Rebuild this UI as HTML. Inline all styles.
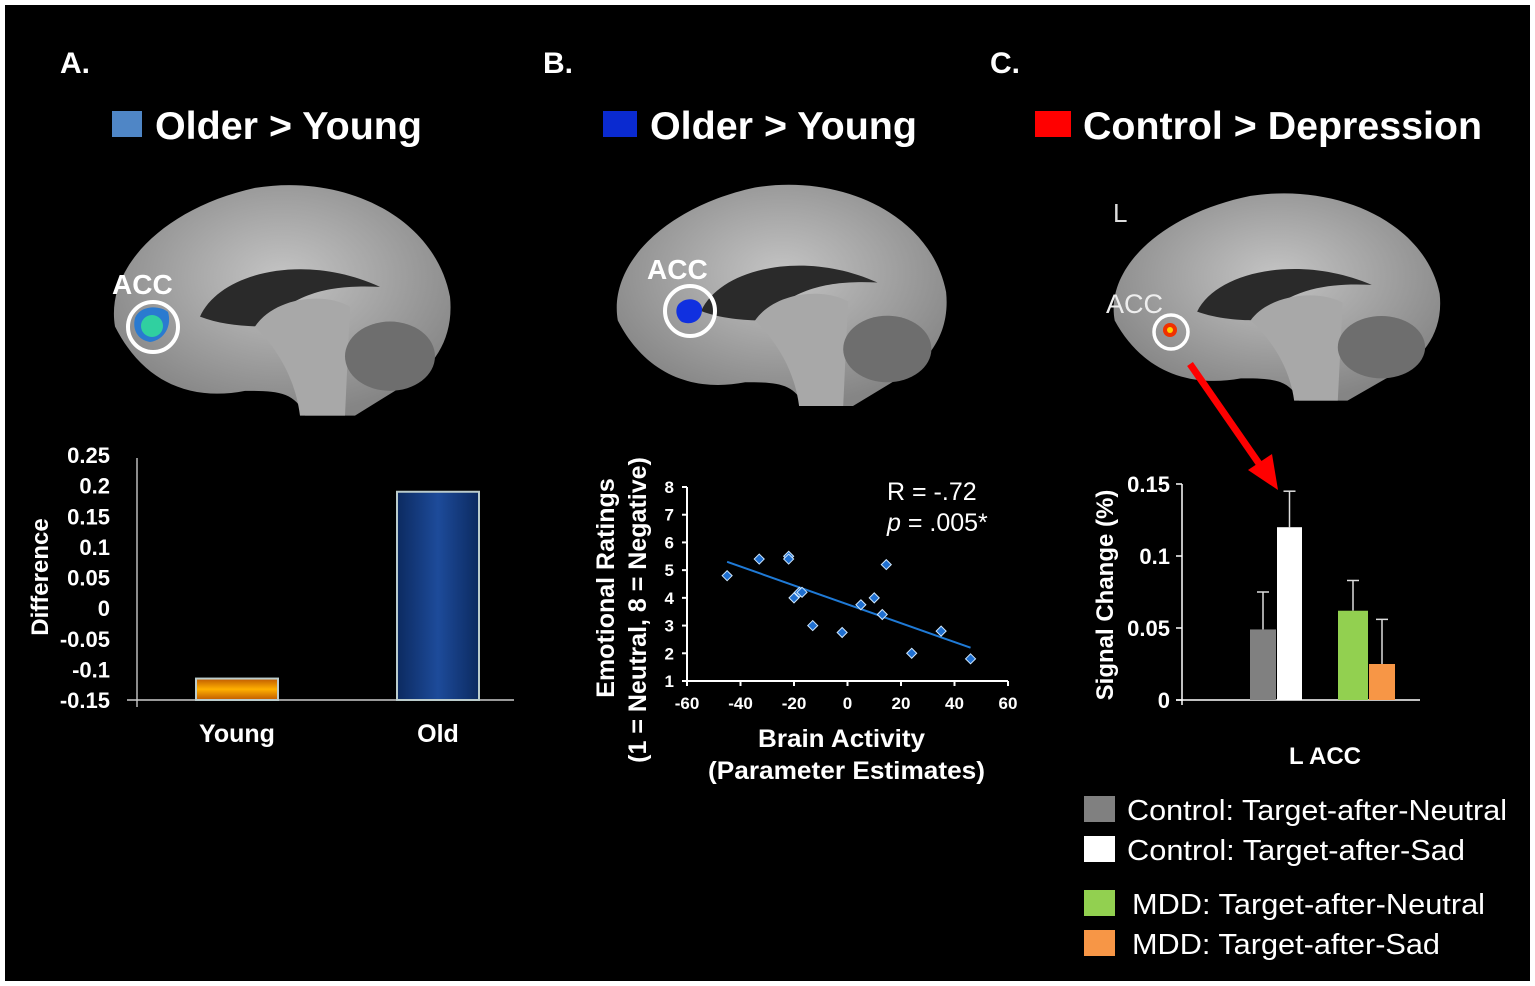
<!DOCTYPE html>
<html><head><meta charset="utf-8"><style>
html,body{margin:0;padding:0;background:#000;}
svg{display:block;font-family:"Liberation Sans",Arial,sans-serif;}
</style></head><body>
<svg width="1535" height="986" viewBox="0 0 1535 986">
<defs>
<radialGradient id="bg" cx="50%" cy="40%" r="60%"><stop offset="0" stop-color="#c4c4c4"/><stop offset="1" stop-color="#858585"/></radialGradient>
<linearGradient id="oldg" x1="0" x2="1"><stop offset="0" stop-color="#0c2a60"/><stop offset="0.5" stop-color="#1d4b9a"/><stop offset="1" stop-color="#0c2a60"/></linearGradient>
<linearGradient id="youngg" x1="0" y1="0" x2="0" y2="1"><stop offset="0" stop-color="#c05a00"/><stop offset="0.5" stop-color="#ffb000"/><stop offset="1" stop-color="#c05a00"/></linearGradient>
<g id="brain">
<path d="M10,150 C0,90 60,30 150,10 C240,-5 330,40 345,120 C350,170 320,200 290,215 L250,240 L200,240 C190,215 170,215 140,215 C90,225 40,210 10,150 Z" fill="url(#bg)"/>
<path d="M95,140 C115,95 200,75 275,110 C235,108 190,112 160,150 C140,150 115,148 95,140 Z" fill="#2a2a2a"/>
<path d="M150,150 C170,120 220,115 245,130 L240,240 L195,240 C190,200 170,170 150,150 Z" fill="#a8a8a8"/>
<ellipse cx="285" cy="180" rx="45" ry="35" fill="#6e6e6e"/>
</g>
</defs>
<rect x="0" y="0" width="1535" height="986" fill="#fff"/>
<rect x="5" y="5" width="1525" height="976" fill="#000"/>

<!-- Panel A -->
<text x="60" y="73" font-size="30" font-weight="bold" fill="#fff">A.</text>
<rect x="112" y="111" width="30" height="26" fill="#4f86c6"/>
<text x="155" y="139" font-size="39" font-weight="bold" fill="#fff" textLength="267" lengthAdjust="spacingAndGlyphs">Older &gt; Young</text>
<use href="#brain" transform="translate(105,178) scale(1,0.99)"/>
<path d="M135,318 C140,305 160,305 168,312 C172,325 165,340 150,342 C138,340 132,330 135,318Z" fill="#2a7ad0"/>
<circle cx="152" cy="326" r="11" fill="#30d0a0"/>
<circle cx="153" cy="327" r="25" fill="none" stroke="#fff" stroke-width="4"/>
<text x="112" y="294" font-size="28" font-weight="bold" fill="#fff">ACC</text>

<g id="chartA"></g>

<!-- Panel B -->
<text x="543" y="73" font-size="30" font-weight="bold" fill="#fff">B.</text>
<rect x="603" y="111" width="34" height="26" fill="#0a2ad0"/>
<text x="650" y="139" font-size="39" font-weight="bold" fill="#fff" textLength="267" lengthAdjust="spacingAndGlyphs">Older &gt; Young</text>
<use href="#brain" transform="translate(608,178) scale(0.98,0.95)"/>
<path d="M678,305 C685,296 700,298 702,308 C703,320 692,326 682,322 C676,318 675,310 678,305Z" fill="#1030e0"/>
<circle cx="690" cy="311" r="25" fill="none" stroke="#fff" stroke-width="4"/>
<text x="647" y="279" font-size="28" font-weight="bold" fill="#fff">ACC</text>
<g id="chartB"></g>
<text transform="translate(614,588) rotate(-90)" text-anchor="middle" font-size="25" font-weight="bold" fill="#fff">Emotional Ratings</text>
<text transform="translate(646,610) rotate(-90)" text-anchor="middle" font-size="25" font-weight="bold" fill="#fff">(1 = Neutral, 8 = Negative)</text>
<text x="758" y="747" font-size="25" font-weight="bold" fill="#fff" textLength="167" lengthAdjust="spacingAndGlyphs">Brain Activity</text>
<text x="708" y="779" font-size="25" font-weight="bold" fill="#fff" textLength="277" lengthAdjust="spacingAndGlyphs">(Parameter Estimates)</text>
<text x="887" y="500" font-size="25" fill="#fff">R = -.72</text>
<text x="887" y="531" font-size="25" fill="#fff"><tspan font-style="italic">p</tspan> = .005*</text>

<!-- Panel C -->
<text x="990" y="73" font-size="30" font-weight="bold" fill="#fff">C.</text>
<rect x="1035" y="111" width="36" height="26" fill="#f00"/>
<text x="1083" y="139" font-size="39" font-weight="bold" fill="#fff" textLength="399" lengthAdjust="spacingAndGlyphs">Control &gt; Depression</text>
<text x="1113" y="222" font-size="26" fill="#ddd">L</text>
<use href="#brain" transform="translate(1105,187) scale(0.97,0.89)"/>
<circle cx="1170" cy="330" r="7" fill="#f03000"/>
<circle cx="1170" cy="330" r="3" fill="#ffd000"/>
<circle cx="1171" cy="332" r="17" fill="none" stroke="#fff" stroke-width="3.5"/>
<text x="1106" y="313" font-size="27" fill="#eee">ACC</text>
<line x1="1190" y1="364" x2="1260" y2="465" stroke="#f00" stroke-width="7"/>
<polygon points="1278,490 1248,470 1272,454" fill="#f00"/>
<g id="chartC"></g>
<text transform="translate(1113,595) rotate(-90)" text-anchor="middle" font-size="24" font-weight="bold" fill="#fff">Signal Change (%)</text>
<text x="1325" y="764" text-anchor="middle" font-size="24" font-weight="bold" fill="#fff">L ACC</text>
<g font-size="29" fill="#fff">
<rect x="1084" y="796" width="31" height="26" fill="#808080"/>
<text x="1127" y="820" textLength="380" lengthAdjust="spacingAndGlyphs">Control: Target-after-Neutral</text>
<rect x="1084" y="836" width="31" height="26" fill="#fff"/>
<text x="1127" y="860" textLength="338" lengthAdjust="spacingAndGlyphs">Control: Target-after-Sad</text>
<rect x="1084" y="890" width="31" height="26" fill="#92d050"/>
<text x="1132" y="914" textLength="353" lengthAdjust="spacingAndGlyphs">MDD: Target-after-Neutral</text>
<rect x="1084" y="930" width="31" height="26" fill="#f79646"/>
<text x="1132" y="954" textLength="308" lengthAdjust="spacingAndGlyphs">MDD: Target-after-Sad</text>
</g>
</svg>
<script>
const NS="http://www.w3.org/2000/svg";
// Panel A data
const aCategories=["Young","Old"];
const aValues=[-0.115,0.19];
const aTicks=[-0.15,-0.1,-0.05,0,0.05,0.1,0.15,0.2,0.25];
const aTickLabels=["-0.15","-0.1","-0.05","0","0.05","0.1","0.15","0.2","0.25"];
// Panel B data
const bX=[-45,-33,-22,-22,-20,-18,-17,-13,-2,5,10,13,14.5,24,35,46];
const bY=[4.8,5.4,5.5,5.4,4.0,4.2,4.2,3.0,2.75,3.75,4.0,3.4,5.2,2.0,2.8,1.8];
const bFitX=[-45,46];
const bFitY=[5.3,2.2];
const bXTicks=[-60,-40,-20,0,20,40,60];
const bYTicks=[1,2,3,4,5,6,7,8];
// Panel C data
const cValues=[0.049,0.12,0.062,0.025];
const cErrors=[0.026,0.025,0.021,0.031];
const cColors=["#808080","#ffffff","#92d050","#f79646"];
const cTicks=[0,0.05,0.1,0.15];
const cTickLabels=["0","0.05","0.1","0.15"];

function mk(tag,attrs,parent){const e=document.createElementNS(NS,tag);for(const k in attrs)e.setAttribute(k,attrs[k]);parent.appendChild(e);return e;}

// Chart A
(function(){
const g=document.getElementById('chartA');
const yA=v=>700-(v+0.15)/0.4*245;
const cx=[237,438];
let ax=mk('line',{x1:137,y1:458,x2:137,y2:707,stroke:'#bbb','stroke-width':1.5},g);


let xx=mk('line',{x1:127,y1:700,x2:514,y2:700,stroke:'#ccc','stroke-width':1.5},g);


aTicks.forEach((t,i)=>{const tx=mk('text',{x:110,y:yA(t)+8,'text-anchor':'end','font-size':22,'font-weight':'bold',fill:'#fff'},g);tx.textContent=aTickLabels[i];

});
aCategories.forEach((c,i)=>{const top=yA(Math.max(aValues[i],-0.15)),bot=yA(-0.15);
const r=mk('rect',{x:cx[i]-41,y:top,width:82,height:Math.max(bot-top,1),fill:i==0?'url(#youngg)':'url(#oldg)',stroke:'#bcc',"stroke-width":2},g);


const t=mk('text',{x:cx[i],y:742,'text-anchor':'middle','font-size':25,'font-weight':'bold',fill:'#fff'},g);t.textContent=c;

});
const yt=mk('text',{transform:'translate(48,577) rotate(-90)','text-anchor':'middle','font-size':24,'font-weight':'bold',fill:'#fff'},g);yt.textContent='Difference';


})();

// Chart B
(function(){
const g=document.getElementById('chartB');
const xs=v=>687+(v+60)/120*321, ys=v=>681-(v-1)/7*194;
let a=mk('line',{x1:687,y1:487,x2:687,y2:681,stroke:'#fff','stroke-width':2},g);


a=mk('line',{x1:687,y1:681,x2:1008,y2:681,stroke:'#fff','stroke-width':2},g);


bYTicks.forEach(t=>{mk('line',{x1:682,y1:ys(t),x2:687,y2:ys(t),stroke:'#fff','stroke-width':2},g);
const tx=mk('text',{x:674,y:ys(t)+6,'text-anchor':'end','font-size':17,'font-weight':'bold',fill:'#fff'},g);tx.textContent=t;

});
bXTicks.forEach(t=>{mk('line',{x1:xs(t),y1:681,x2:xs(t),y2:686,stroke:'#fff','stroke-width':2},g);
const tx=mk('text',{x:xs(t),y:709,'text-anchor':'middle','font-size':17,'font-weight':'bold',fill:'#fff'},g);tx.textContent=t;

});
const fl=mk('line',{x1:xs(bFitX[0]),y1:ys(bFitY[0]),x2:xs(bFitX[1]),y2:ys(bFitY[1]),stroke:'#1f7ad6','stroke-width':2},g);


bX.forEach((x,i)=>{const px=xs(x),py=ys(bY[i]);
const p=mk('polygon',{points:`${px},${py-5} ${px+5},${py} ${px},${py+5} ${px-5},${py}`,fill:'#1f6fd0',stroke:'#cfe8ff','stroke-width':1},g);

});
})();

// Chart C
(function(){
const g=document.getElementById('chartC');
const ys=v=>700-v/0.15*216;
const bx=[1250,1277,1338,1369],bw=[26,25,30,26];
let a=mk('line',{x1:1182,y1:484,x2:1182,y2:705,stroke:'#fff','stroke-width':1.5},g);


a=mk('line',{x1:1176,y1:700,x2:1420,y2:700,stroke:'#fff','stroke-width':1.5},g);


cTicks.forEach((t,i)=>{mk('line',{x1:1176,y1:ys(t),x2:1182,y2:ys(t),stroke:'#fff','stroke-width':1.5},g);
const tx=mk('text',{x:1170,y:ys(t)+8,'text-anchor':'end','font-size':22,'font-weight':'bold',fill:'#fff'},g);tx.textContent=cTickLabels[i];

});
cValues.forEach((v,i)=>{const cxm=bx[i]+bw[i]/2,top=ys(v+cErrors[i]);
mk('line',{x1:cxm,y1:ys(v),x2:cxm,y2:top,stroke:'#ddd','stroke-width':1.5},g);
mk('line',{x1:cxm-6,y1:top,x2:cxm+6,y2:top,stroke:'#ddd','stroke-width':1.5},g);
const r=mk('rect',{x:bx[i],y:ys(v),width:bw[i],height:700-ys(v),fill:cColors[i]},g);

});
})();
</script>
</body></html>
